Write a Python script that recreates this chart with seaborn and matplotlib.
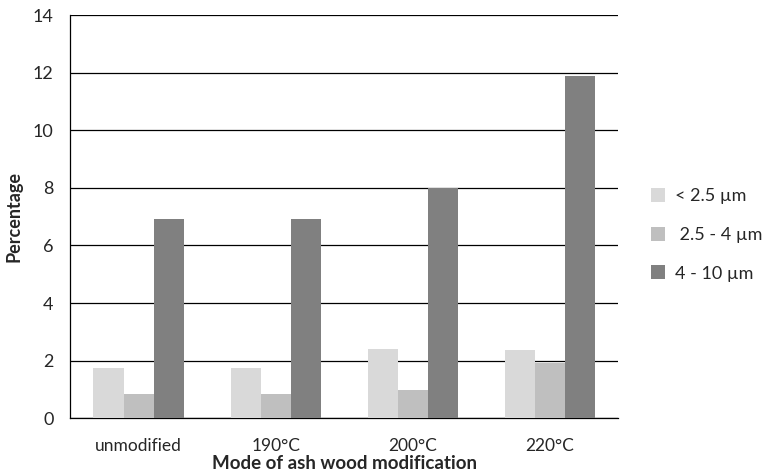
import pandas as pd
import numpy as np
import matplotlib
matplotlib.use("Agg")
import matplotlib.pyplot as plt
import seaborn as sns
from matplotlib.ticker import FixedLocator

# data
modes = ["unmodified", "190°C", "200°C", "220°C"]
fractions = ["< 2.5 µm", " 2.5 - 4 µm", "4 - 10 µm"]
small = [1.76, 1.76, 2.42, 2.38]
medium = [0.83, 0.83, 0.97, 1.90]
large = [6.93, 6.93, 8.01, 11.88]
colors = ["#d9d9d9", "#bfbfbf", "#808080"]

df = pd.DataFrame({
    "mode": modes * 3,
    "fraction": [f for f in fractions for _ in modes],
    "pct": small + medium + large,
})

sns.set_style("white")
plt.rcParams["font.family"] = ["Lato", "DejaVu Sans"]

fig, ax = plt.subplots(figsize=(7.71, 4.72), dpi=100)
fig.subplots_adjust(left=0.091, right=0.802, top=0.968, bottom=0.114)

sns.barplot(data=df, x="mode", y="pct", hue="fraction", order=modes,
            hue_order=fractions, palette=colors, width=0.66, gap=0,
            saturation=1, linewidth=0, ax=ax, zorder=3)

ax.set_ylim(0, 14)
ax.set_yticks(range(0, 15, 2))
ax.set_xlim(-0.5, 3.5)
ax.yaxis.grid(True, color="black", linewidth=0.9, zorder=0)
ax.set_axisbelow(True)
for s in ["top", "right"]:
    ax.spines[s].set_visible(False)
for s in ["left", "bottom"]:
    ax.spines[s].set_color("black")
    ax.spines[s].set_linewidth(0.9)

# Excel-like ticks between categories
ax.tick_params(axis="x", which="major", length=0, labelsize=12.5, pad=14)
ax.xaxis.set_minor_locator(FixedLocator(np.arange(-0.5, 4, 1)))
ax.tick_params(axis="x", which="minor", length=8, width=0.9, color="black", direction="out")
ax.tick_params(axis="y", length=7, width=0.9, color="black", direction="out", labelsize=13, pad=5)

ax.set_xlabel("Mode of ash wood modification", fontsize=13.5, fontweight="bold", labelpad=1)
ax.set_ylabel("Percentage", fontsize=13, fontweight="bold", labelpad=7)

ax.legend(loc="center left", bbox_to_anchor=(1.03, 0.455), frameon=False,
          fontsize=13, handlelength=0.8, handleheight=0.8, labelspacing=1.25,
          handletextpad=0.5)

plt.savefig("out.png", dpi=100)
